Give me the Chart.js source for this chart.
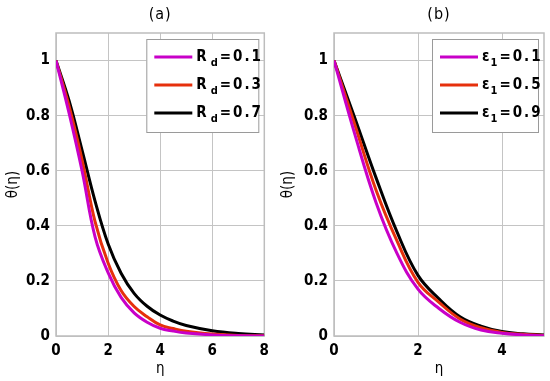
<!DOCTYPE html>
<html>
<head>
<meta charset="utf-8">
<script src="https://cdn.jsdelivr.net/npm/chart.js@4/dist/chart.umd.min.js"></script>
<style>
  html, body { margin: 0; padding: 0; background: #fff; }
  .wrap { display: flex; width: 550px; height: 381px; }
  .box { position: relative; width: 275px; height: 381px; }
</style>
</head>
<body>
<div class="wrap">
  <div class="box"><canvas id="chartA"></canvas></div>
  <div class="box"><canvas id="chartB"></canvas></div>
</div>
<script>
// panel (a): effect of R_d
const etaA = [0, 0.5, 1, 1.5, 2, 2.5, 3, 3.5, 4, 4.5, 5, 6, 7, 8];
const rd01 = [1, 0.81, 0.60, 0.36, 0.23, 0.14, 0.084, 0.05, 0.028, 0.018, 0.011, 0.004, 0.001, 0];
const rd03 = [1, 0.835, 0.64, 0.415, 0.265, 0.165, 0.107, 0.07, 0.04, 0.027, 0.017, 0.007, 0.002, 0.001];
const rd07 = [1, 0.855, 0.675, 0.49, 0.335, 0.228, 0.155, 0.108, 0.076, 0.054, 0.038, 0.019, 0.009, 0.004];
const legendA = ['0.1', '0.3', '0.7'];

// panel (b): effect of epsilon_1
const etaB = [0, 0.5, 1, 1.5, 2, 2.5, 3, 3.5, 4, 4.5, 5];
const eps01 = [1, 0.73, 0.485, 0.30, 0.17, 0.10, 0.05, 0.022, 0.01, 0.004, 0.001];
const eps05 = [1, 0.765, 0.53, 0.345, 0.195, 0.122, 0.062, 0.03, 0.013, 0.006, 0.002];
const eps09 = [1, 0.79, 0.575, 0.378, 0.22, 0.135, 0.07, 0.036, 0.016, 0.008, 0.004];
const legendB = ['0.1', '0.5', '0.9'];

const yTicks = [0, 0.2, 0.4, 0.6, 0.8, 1];
const xTicksA = [0, 2, 4, 6, 8];
const xTicksB = [0, 2, 4];

const colors = ['#c800c8', '#e6300c', '#000000'];
const FONT = "'Liberation Sans Narrow', 'DejaVu Sans Condensed', 'Liberation Sans', sans-serif";

function toPts(xs, ys) {
  return xs.map((x, i) => ({ x: x, y: ys[i] }));
}

// frame, title and in-plot legend
const panelDecor = {
  id: 'panelDecor',
  beforeDatasetsDraw(chart, args, opts) {
    const a = chart.chartArea, ctx = chart.ctx;
    ctx.save();
    ctx.strokeStyle = '#bdbdbd';
    ctx.lineWidth = 1.5;
    ctx.strokeRect(a.left, a.top, a.right - a.left, a.bottom - a.top);
    ctx.restore();
  },
  afterDraw(chart, args, opts) {
    const a = chart.chartArea, ctx = chart.ctx;
    ctx.save();
    // title
    ctx.fillStyle = '#000';
    ctx.font = '16px ' + FONT;
    ctx.textAlign = 'center';
    ctx.textBaseline = 'middle';
    ctx.letterSpacing = '1px';
    ctx.fillText(opts.title, (a.left + a.right) / 2, 15);

    // legend box
    const bx = a.right - 6 - opts.boxW, by = a.top + 6, bh = 93;
    ctx.letterSpacing = '0px';
    ctx.fillStyle = '#fff';
    ctx.fillRect(bx, by, opts.boxW, bh);
    ctx.strokeStyle = '#9a9a9a';
    ctx.lineWidth = 1;
    ctx.strokeRect(bx + 0.5, by + 0.5, opts.boxW, bh);
    ctx.textAlign = 'left';
    chart.data.datasets.forEach((ds, i) => {
      const y = by + 18 + i * 28;
      ctx.strokeStyle = ds.borderColor;
      ctx.lineWidth = 3;
      ctx.beginPath();
      ctx.moveTo(bx + 8, y);
      ctx.lineTo(bx + 46, y);
      ctx.stroke();
      ctx.fillStyle = '#000';
      let x = bx + 50;
      ctx.font = 'bold 15px ' + FONT;
      ctx.fillText(opts.sym, x, y);
      x += ctx.measureText(opts.sym).width + opts.subGap;
      ctx.font = 'bold 11px ' + FONT;
      ctx.fillText(opts.sub, x, y + 6);
      x += ctx.measureText(opts.sub).width + 2;
      ctx.font = 'bold 15px ' + FONT;
      ctx.fillText('=', x, y);
      x += ctx.measureText('=').width + 2;
      ctx.letterSpacing = '2px';
      ctx.fillText(opts.values[i], x, y);
      ctx.letterSpacing = '0px';
    });
    ctx.restore();
  }
};

function makePanel(id, xs, series, xMax, xTicks, yAxisW, padRight, decor) {
  return new Chart(document.getElementById(id), {
    type: 'line',
    data: {
      datasets: series.map((ys, i) => ({
        data: toPts(xs, ys),
        borderColor: colors[i],
        borderWidth: 3,
        pointRadius: 0,
        fill: false,
        tension: 0.4
      }))
    },
    options: {
      responsive: false,
      animation: false,
      layout: { padding: { top: 33, right: padRight, left: 0, bottom: 0 } },
      plugins: {
        legend: { display: false },
        tooltip: { enabled: false },
        panelDecor: decor
      },
      scales: {
        x: {
          type: 'linear',
          min: 0,
          max: xMax,
          afterBuildTicks: s => { s.ticks = xTicks.map(v => ({ value: v })); },
          afterFit: s => { s.height = 45; },
          border: { display: false },
          grid: { color: '#c4c4c4', borderDash: [4, 3], drawTicks: false, lineWidth: 1 },
          ticks: { color: '#000', padding: 6, callback: v => String(v),
                   font: { family: FONT, size: 15, weight: 'bold' } },
          title: { display: true, text: 'η', color: '#000', padding: { top: 0, bottom: 3 },
                   font: { family: FONT, size: 15 } }
        },
        y: {
          type: 'linear',
          min: 0,
          max: 1.1,
          afterBuildTicks: s => { s.ticks = yTicks.map(v => ({ value: v })); },
          afterFit: s => { s.width = yAxisW; },
          border: { display: false },
          grid: { color: '#c4c4c4', borderDash: [4, 3], drawTicks: false, lineWidth: 1 },
          ticks: { color: '#000', padding: 6, callback: v => String(v),
                   font: { family: FONT, size: 15, weight: 'bold' } },
          title: { display: true, text: 'θ(η)', color: '#000', padding: { top: 4, bottom: 0 },
                   font: { family: FONT, size: 15 } }
        }
      }
    },
    plugins: [panelDecor]
  });
}

const cA = document.getElementById('chartA');
cA.width = 275; cA.height = 381;
const cB = document.getElementById('chartB');
cB.width = 275; cB.height = 381;

makePanel('chartA', etaA, [rd01, rd03, rd07], 8, xTicksA, 56, 8,
  { title: '(a)', sym: 'R', sub: 'd', subGap: 4, boxW: 112, values: legendA });
makePanel('chartB', etaB, [eps01, eps05, eps09], 5, xTicksB, 59, 6,
  { title: '(b)', sym: 'ε', sub: '1', subGap: 1, boxW: 106, values: legendB });
</script>
</body>
</html>
